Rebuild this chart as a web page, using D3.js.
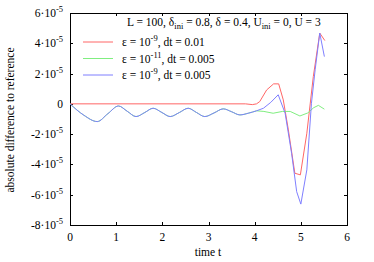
<!DOCTYPE html>
<html><head><meta charset="utf-8">
<script src="https://cdn.jsdelivr.net/npm/d3@7"></script>
<style>body{margin:0;background:#fff}svg{display:block}</style>
</head><body><svg id="c" width="374" height="262"></svg>
<script>
const xTicks = [0,1,2,3,4,5,6];
const yTicks = [6,4,2,0,-2,-4,-6,-8]; // in units of 1e-5
// values in units of 1e-5
const redT =  [0,3.8,3.95,4.04,4.11,4.26,4.41,4.52,4.62,4.73,4.87,4.99,5.13,5.27,5.41,5.52];
const redV =  [0,0,-0.05,0,0.15,0.92,1.32,1.32,0.26,-1.72,-4.58,-4.69,-1.94,1.8,4.67,4.18];
const blueT = [0,0.3,0.59,0.82,1.05,1.24,1.43,1.62,1.8,1.99,2.17,2.37,2.56,2.74,2.92,3.12,3.32,3.5,3.68,3.86,4.04,4.19,4.35,4.51,4.66,4.8,4.91,5.0,5.13,5.23,5.31,5.41,5.51];
const blueV = [0,-0.75,-1.17,-0.65,-0.14,-0.49,-0.84,-0.57,-0.29,-0.57,-0.84,-0.57,-0.29,-0.57,-0.84,-0.6,-0.33,-0.52,-0.73,-0.62,-0.46,-0.29,0.1,0.6,-0.62,-3.27,-5.8,-6.62,-4.36,0.04,2.25,4.67,3.12];
const greenT = [0,0.3,0.59,0.82,1.05,1.24,1.43,1.62,1.8,1.99,2.17,2.37,2.56,2.74,2.92,3.12,3.32,3.5,3.68,3.86,4.04,4.2,4.4,4.6,4.77,4.98,5.15,5.28,5.38,5.51];
const greenV = [0,-0.75,-1.17,-0.65,-0.14,-0.49,-0.84,-0.57,-0.29,-0.57,-0.84,-0.57,-0.29,-0.57,-0.84,-0.6,-0.33,-0.52,-0.73,-0.62,-0.46,-0.5,-0.62,-0.5,-0.5,-0.8,-0.6,-0.25,-0.1,-0.35];
const legendLabels = [["ε = 10","-9",", dt = 0.01"],["ε = 10","-11",", dt = 0.005"],["ε = 10","-9",", dt = 0.005"]];
const colors = ["#ff6666","#80ee80","#7f7fff"];

const FF = '"Liberation Serif"';
const FS = 11.5, SS = 8.5;
const svg = d3.select("#c");
const L=70, R=347, T=13, B=225;
const x = d3.scaleLinear().domain([0,6]).range([L,R]);
const y = d3.scaleLinear().domain([-8,6]).range([B,T]);

const g = svg.append("g");
function txt(sel){ return sel.append("text").style("font-family",FF).style("font-size",FS+"px").attr("fill","#000"); }
g.append("rect").attr("x",L+0.5).attr("y",T+0.5).attr("width",R-L).attr("height",B-T).attr("fill","none").attr("stroke","#000").attr("stroke-width",1);
const tl=3;
xTicks.forEach(t=>{
  const xp=Math.round(x(t))+0.5;
  g.append("line").attr("x1",xp).attr("x2",xp).attr("y1",B).attr("y2",B-tl).attr("stroke","#000");
  g.append("line").attr("x1",xp).attr("x2",xp).attr("y1",T).attr("y2",T+tl).attr("stroke","#000");
  txt(g).attr("x",x(t)).attr("y",B+16).attr("text-anchor","middle").text(t);
});
yTicks.forEach(v=>{
  const yp=Math.round(y(v))+0.5;
  g.append("line").attr("x1",L).attr("x2",L+tl).attr("y1",yp).attr("y2",yp).attr("stroke","#000");
  g.append("line").attr("x1",R).attr("x2",R-tl).attr("y1",yp).attr("y2",yp).attr("stroke","#000");
  const tx = txt(g).attr("x",63).attr("y",y(v)+4).attr("text-anchor","end");
  if(v===0){ tx.text("0"); }
  else { tx.append("tspan").text(v+"·10"); tx.append("tspan").style("font-size",SS+"px").attr("dy",-5).text("-5"); }
});

const smooth = d3.line().x(d=>x(d[0])).y(d=>y(d[1])).curve(d3.curveMonotoneX);
const lin = d3.line().x(d=>x(d[0])).y(d=>y(d[1]));
const data = [d3.zip(redT,redV), d3.zip(greenT,greenV), d3.zip(blueT,blueV)];
data.forEach((d,i)=>{
  const a = d.filter(p=>p[0]<=4.04), b = d.filter(p=>p[0]>=4.04);
  const dd = i===0 ? lin(d) : smooth(a) + lin(b).replace(/^M/,"L");
  g.append("path").attr("d",dd).attr("fill","none").attr("stroke",colors[i]).attr("stroke-width",1);
});

const tt = txt(g).attr("x",127).attr("y",26);
tt.append("tspan").text("L = 100, δ");
tt.append("tspan").style("font-size",SS+"px").attr("dy",3).text("ini");
tt.append("tspan").attr("dy",-3).text(" = 0.8, δ = 0.4, U");
tt.append("tspan").style("font-size",SS+"px").attr("dy",3).text("ini");
tt.append("tspan").attr("dy",-3).text(" = 0, U = 3");

const ly=[42,58.5,75];
legendLabels.forEach((lab,i)=>{
  g.append("line").attr("x1",83).attr("x2",113).attr("y1",ly[i]).attr("y2",ly[i]).attr("stroke",colors[i]);
  const t = txt(g).attr("x",122).attr("y",ly[i]+4);
  t.append("tspan").text(lab[0]);
  t.append("tspan").style("font-size",SS+"px").attr("dy",-5).text(lab[1]);
  t.append("tspan").attr("dy",5).text(lab[2]);
});

txt(g).attr("x",208).attr("y",256).attr("text-anchor","middle").text("time t");
txt(g).attr("transform","translate(14,120) rotate(-90)").attr("text-anchor","middle").text("absolute difference to reference");
</script></body></html>
